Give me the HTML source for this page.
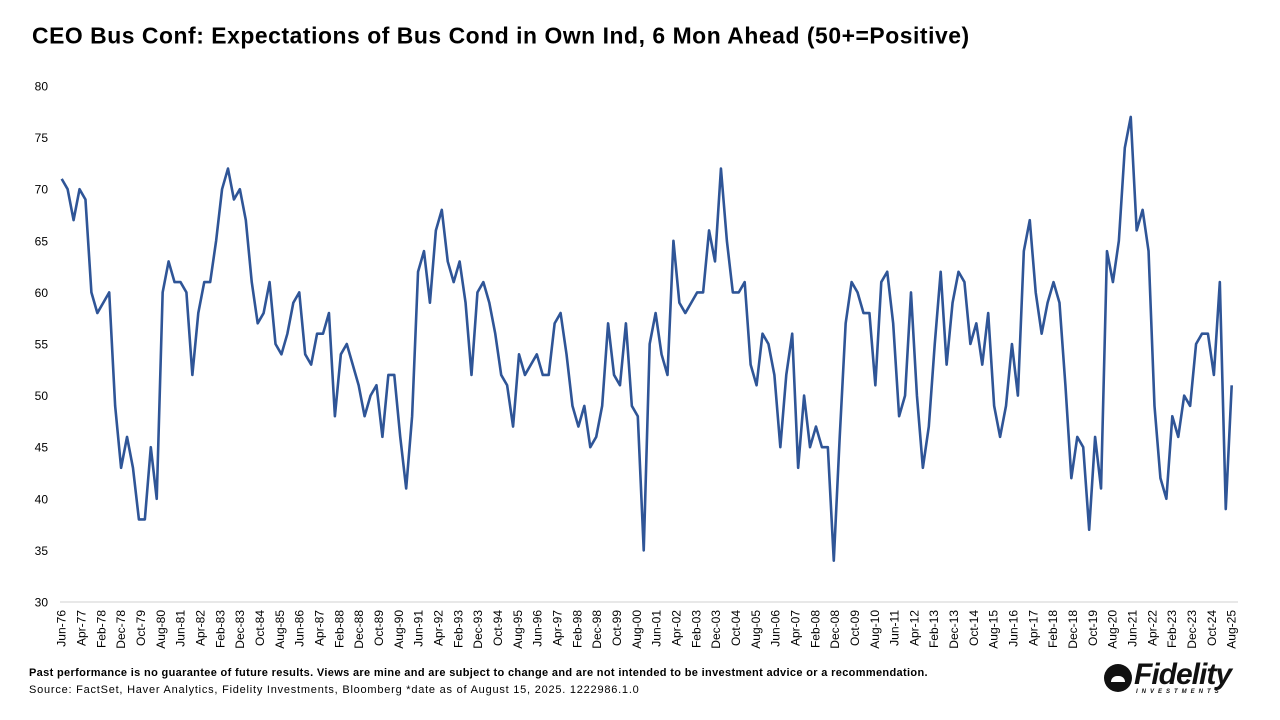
<!DOCTYPE html>
<html><head><meta charset="utf-8"><style>
body{margin:0;background:#fff;font-family:"Liberation Sans",Arial,sans-serif}
#wrap{position:relative;width:1280px;height:720px;overflow:hidden}
#title{position:absolute;left:32px;top:24px;font-size:21px;font-weight:bold;color:#000;letter-spacing:0.5px;transform-origin:0 0;transform:scale(1.09,1.08);white-space:nowrap}
.foot{position:absolute;left:29px;font-size:11px;color:#000;white-space:nowrap}
</style></head><body>
<div id="wrap">
<div id="title">CEO Bus Conf: Expectations of Bus Cond in Own Ind, 6 Mon Ahead (50+=Positive)</div>
<svg id="chart" width="1280" height="720" style="position:absolute;left:0;top:0"></svg>
<div class="foot" style="top:667px;font-weight:bold;letter-spacing:0.34px">Past performance is no guarantee of future results. Views are mine and are subject to change and are not intended to be investment advice or a recommendation.</div>
<div class="foot" style="top:684px;letter-spacing:0.77px">Source: FactSet, Haver Analytics, Fidelity Investments, Bloomberg *date as of August 15, 2025. 1222986.1.0</div>
<div style="position:absolute;left:1104px;top:662px;width:145px;height:36px">
<div style="position:absolute;left:0;top:2px;width:28px;height:28px;border-radius:50%;background:#111"></div>
<div style="position:absolute;left:7px;top:14px;width:14px;height:6px;background:#fff;border-radius:7px 7px 0 0"></div>
<div style="position:absolute;left:30px;top:-4px;font-size:30px;font-weight:bold;font-style:italic;color:#111;letter-spacing:-1px">Fidelity</div>
<div style="position:absolute;left:32px;top:27px;font-size:6px;font-weight:bold;font-style:italic;letter-spacing:4px;color:#111">INVESTMENTS</div>
</div>
</div>
<script>
const values = [71,70,67,70,69,60,58,59,60,49,43,46,43,38,38,45,40,60,63,61,61,60,52,58,61,61,65,70,72,69,70,67,61,57,58,61,55,54,56,59,60,54,53,56,56,58,48,54,55,53,
51,48,50,51,46,52,52,46,41,48,62,64,59,66,68,63,61,63,59,52,60,61,59,56,52,51,47,54,52,53,54,52,52,57,58,54,49,47,49,45,46,49,57,52,51,57,49,48,35,
55,58,54,52,65,59,58,59,60,60,66,63,72,65,60,60,61,53,51,56,55,52,45,52,56,43,50,45,47,45,45,34,46,57,61,60,58,58,51,61,62,57,48,50,60,50,43,47,55,
62,53,59,62,61,55,57,53,58,49,46,49,55,50,64,67,60,56,59,61,59,51,42,46,45,37,46,41,64,61,65,74,77,66,68,64,49,42,40,48,46,50,49,55,56,56,52,61,39,51];
const yTicks = [30,35,40,45,50,55,60,65,70,75,80];
const monthNames = ["Jan","Feb","Mar","Apr","May","Jun","Jul","Aug","Sep","Oct","Nov","Dec"];
const startYear = 1976, startMonth = 5; // Jun-76
const labelStepMonths = 10;
const totalMonths = 590;

const NS="http://www.w3.org/2000/svg";
const svg=document.getElementById('chart');
const X0=61.7, X1=1231.7, Y0=602, Y1=86;
const yMin=30,yMax=80;
const ys=v=>Y0-(v-yMin)/(yMax-yMin)*(Y0-Y1);
const xi=i=>X0+i*(X1-X0)/(values.length-1);
const xm=m=>X0+m*(X1-X0)/totalMonths;
function mk(t,a){const e=document.createElementNS(NS,t);for(const k in a)e.setAttribute(k,a[k]);svg.appendChild(e);return e;}

const ax=mk('line',{x1:60,x2:1238,y1:Y0,y2:Y0,stroke:'#d9d9d9','stroke-width':1.3});



yTicks.forEach(v=>{
  const t=mk('text',{x:48,y:ys(v)+4.5,'text-anchor':'end','font-size':12,fill:'#000','font-family':'Liberation Sans, sans-serif'});
  t.textContent=v;
  
  
});

for(let m=0;m<=totalMonths;m+=labelStepMonths){
  const mo=(startMonth+m)%12, yr=startYear+Math.floor((startMonth+m)/12);
  const lab=monthNames[mo]+'-'+String(yr%100).padStart(2,'0');
  const x=xm(m)+4;
  const t=mk('text',{x:0,y:0,transform:`translate(${x},610) rotate(-90)`,'text-anchor':'end','font-size':12,fill:'#000','font-family':'Liberation Sans, sans-serif'});
  t.textContent=lab;
  
  
}

const pts=values.map((v,i)=>xi(i).toFixed(2)+','+ys(v).toFixed(2)).join(' ');
const line=mk('polyline',{points:pts,fill:'none',stroke:'#2f5597','stroke-width':2.6,'stroke-linejoin':'round'});


</script>
</body></html>
